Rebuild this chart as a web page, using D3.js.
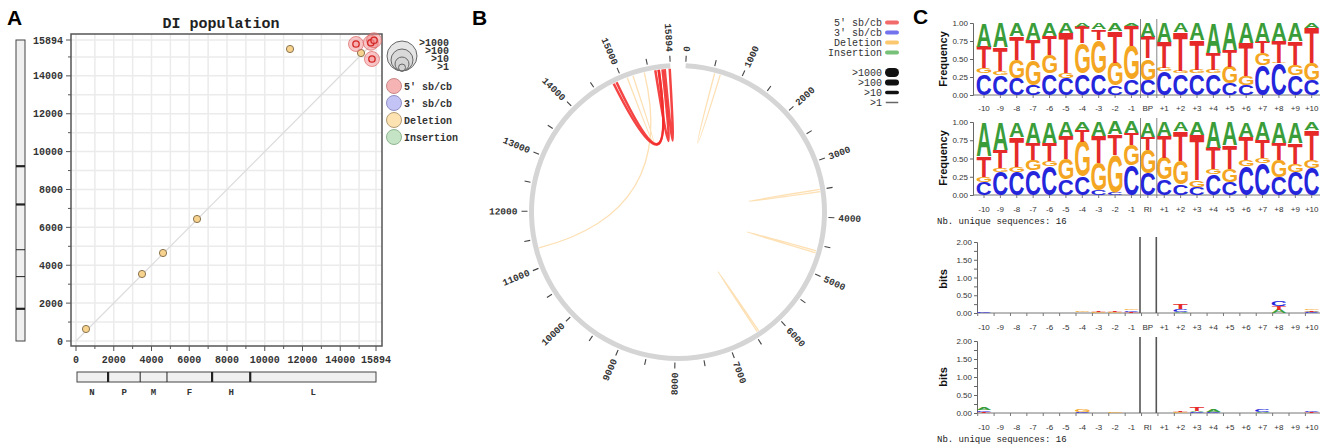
<!DOCTYPE html>
<html><head><meta charset="utf-8">
<script src="https://cdn.jsdelivr.net/npm/d3@7"></script>
<style>body{margin:0;background:#fff}svg{display:block}</style>
</head><body>
<svg id="c" width="1330" height="448"></svg>
<script>
// ---------------- DATA ----------------
const GENOME = 15894;
const geneNames = ["N","P","M","F","H","L"];
const geneStarts = [0,1700,3400,4820,7210,9230];
const geneEnds = [1700,3400,4820,7210,9230,15894];
const thickBoundaries = [1700,7210,9230];
// deletions: breakpoint / rejoin
const delBreak = [530,3497,4610,6412,11338,15100];
const delRejoin = [634,3538,4647,6442,15419,15207];
// 5' copy-back / snap-back
const cbBreak = [14834,15620,15680,15790];
const cbRejoin = [15683,15750,14890,15880];
const axisLabelValues = [0,2000,4000,6000,8000,10000,12000,14000,15894];
const sizeLabels = [">1000",">100",">10",">1"];
const typeLabels = ["5' sb/cb","3' sb/cb","Deletion","Insertion"];

const logoLabels1 = ["-10","-9","-8","-7","-6","-5","-4","-3","-2","-1","BP","+1","+2","+3","+4","+5","+6","+7","+8","+9","+10"];
const logoLabels2 = ["-10","-9","-8","-7","-6","-5","-4","-3","-2","-1","RI","+1","+2","+3","+4","+5","+6","+7","+8","+9","+10"];
const freq1C = [.30,.28,.23,.14,.30,.23,.30,.30,.13,.21,.21,.33,.30,.30,.30,.16,.14,.42,.44,.28,.21];
const freq1G = [.07,.05,.26,.35,.26,.07,.42,.46,.32,.47,.30,.05,.04,.05,.05,.23,.12,.16,.01,.14,.23];
const freq1T = [.30,.33,.33,.28,.26,.56,.23,.15,.44,.28,.30,.35,.54,.42,.23,.23,.46,.16,.30,.33,.49];
const freq1A = [.33,.34,.18,.23,.18,.14,.05,.09,.11,.04,.19,.27,.12,.23,.42,.38,.28,.26,.25,.25,.07];
const freq2C = [.18,.32,.32,.34,.39,.21,.25,.07,.04,.41,.30,.21,.14,.11,.28,.18,.39,.44,.25,.32,.37];
const freq2G = [.07,.05,.07,.14,.07,.28,.48,.37,.51,.28,.32,.30,.32,.09,.07,.18,.09,.07,.23,.11,.11];
const freq2T = [.28,.25,.41,.23,.25,.32,.16,.37,.28,.16,.18,.30,.41,.62,.30,.32,.32,.25,.23,.28,.41];
const freq2A = [.47,.38,.20,.29,.29,.19,.11,.19,.17,.15,.20,.19,.13,.18,.35,.32,.20,.24,.29,.29,.11];
const bits3C = [.02,.01,0,0,0,0,.005,.01,.01,.05,0,0,.07,0,0,0,0,0,.13,0,.02];
const bits3G = [0,0,0,0,0,0,.015,.02,.02,.05,0,0,0,0,0,0,0,0,0,0,.05];
const bits3T = [.01,.005,0,0,0,.005,.01,.02,.02,.03,0,0,.14,.005,.005,0,0,0,.10,0,.04];
const bits3A = [0,0,0,0,0,0,0,0,0,.01,0,0,.03,0,0,0,0,0,.09,0,.02];
const bits4C = [.05,.005,0,0,0,0,.02,0,0,0,0,0,0,.03,.03,0,0,.06,0,0,.05];
const bits4G = [0,.005,0,0,0,0,.07,0,.03,0,0,0,.02,0,0,0,0,0,0,0,0];
const bits4T = [.02,.01,.01,0,0,0,0,0,0,0,0,0,.03,.12,0,0,0,0,0,0,.03];
const bits4A = [.07,0,0,0,0,0,0,0,0,0,0,0,0,.03,.05,0,0,.04,0,0,0];
const freqTicks = [0,0.25,0.5,0.75,1];
const bitsTicks = [0,0.25,0.5,0.75,1,1.25,1.5,1.75,2];

// ---------------- SETUP ----------------
const svg = d3.select("#c");
const MONO = "'Liberation Mono','Courier New',monospace";
const SANS = "'Liberation Sans',Arial,sans-serif";
const typeFill = ["#f6b3b3","#c3c3f5","#fde2b2","#c5e3c5"];
const typeStroke = ["#c98888","#8f8fc4","#b59c74","#8fb58f"];
const lineColor = ["#f26b6b","#7373ee","#fbc870","#77c077"];

function panelLabel(t,x,y){svg.append("text").attr("x",x).attr("y",y).text(t)
  .attr("font-family",SANS).attr("font-weight","bold").attr("font-size",21).attr("fill","#000");}
panelLabel("A",7,25); panelLabel("B",472,25); panelLabel("C",913,24);

// ---------------- PANEL A ----------------
const ax = d3.scaleLinear().domain([0,GENOME]).range([76,376]);
const ay = d3.scaleLinear().domain([0,GENOME]).range([341,40]);
const gA = svg.append("g");
const gridVals = d3.range(0,GENOME,1000).concat([GENOME]);
gA.selectAll(".gx").data(gridVals).join("line").attr("x1",d=>ax(d)).attr("x2",d=>ax(d))
  .attr("y1",34).attr("y2",346).attr("stroke","#ebebeb").attr("stroke-width",1.5);
gA.selectAll(".gy").data(gridVals).join("line").attr("y1",d=>ay(d)).attr("y2",d=>ay(d))
  .attr("x1",71).attr("x2",382).attr("stroke","#ebebeb").attr("stroke-width",1.5);
gA.append("rect").attr("x",71).attr("y",34).attr("width",311).attr("height",312)
  .attr("fill","none").attr("stroke","#555").attr("stroke-width",1.5);
gridVals.forEach(v=>{
  const major = axisLabelValues.includes(v);
  gA.append("line").attr("x1",ax(v)).attr("x2",ax(v)).attr("y1",346).attr("y2",major?351:349).attr("stroke","#555");
  gA.append("line").attr("y1",ay(v)).attr("y2",ay(v)).attr("x1",71).attr("x2",major?66:68).attr("stroke","#555");
});
gA.selectAll(".xl").data(axisLabelValues).join("text").attr("x",d=>ax(d)).attr("y",363)
  .attr("text-anchor","middle").text(d=>d).attr("font-family",MONO).attr("font-weight","bold").attr("font-size",10).attr("fill","#333");
gA.selectAll(".yl").data(axisLabelValues).join("text").attr("x",63).attr("y",d=>ay(d)+3.5)
  .attr("text-anchor","end").text(d=>d).attr("font-family",MONO).attr("font-weight","bold").attr("font-size",10).attr("fill","#333");
gA.append("text").attr("x",221).attr("y",28).attr("text-anchor","middle").text("DI population")
  .attr("font-family",MONO).attr("font-weight","bold").attr("font-size",15).attr("fill","#222");
gA.append("line").attr("x1",ax(0)).attr("y1",ay(0)).attr("x2",ax(GENOME)).attr("y2",ay(GENOME)).attr("stroke","#dcdcdc").attr("stroke-width",1.2);
gA.append("rect").attr("x",16).attr("y",ay(GENOME)).attr("width",9).attr("height",ay(0)-ay(GENOME)).attr("fill","#f0f0f0").attr("stroke","#444");
gA.append("rect").attr("x",ax(0)+1).attr("y",372).attr("width",ax(GENOME)-ax(0)-1).attr("height",10).attr("fill","#f0f0f0").attr("stroke","#444");
geneStarts.slice(1).forEach(b=>{
  const w = thickBoundaries.includes(b)?2.2:1;
  gA.append("line").attr("x1",16).attr("x2",25).attr("y1",ay(b)).attr("y2",ay(b)).attr("stroke","#222").attr("stroke-width",w);
  gA.append("line").attr("y1",372).attr("y2",382).attr("x1",ax(b)).attr("x2",ax(b)).attr("stroke","#222").attr("stroke-width",w);
});
geneNames.forEach((n,i)=>{
  gA.append("text").attr("x",ax((geneStarts[i]+geneEnds[i])/2)).attr("y",395).attr("text-anchor","middle").text(n)
    .attr("font-family",MONO).attr("font-weight","bold").attr("font-size",9).attr("fill","#333");
});
delBreak.forEach((b,i)=>{
  gA.append("circle").attr("cx",ax(b)).attr("cy",ay(delRejoin[i])).attr("r",3.6)
    .attr("fill","#f7d38e").attr("stroke","#8a7350").attr("stroke-width",1);
});
cbBreak.forEach((b,i)=>{
  gA.append("circle").attr("cx",ax(b)).attr("cy",ay(cbRejoin[i])).attr("r",7.5)
    .attr("fill","#f08080").attr("fill-opacity",0.45).attr("stroke","#d66").attr("stroke-opacity",0.7);
});
cbBreak.forEach((b,i)=>{
  gA.append("circle").attr("cx",ax(b)).attr("cy",ay(cbRejoin[i])).attr("r",3.2)
    .attr("fill","#f6a0a0").attr("fill-opacity",0.6).attr("stroke","#d42525").attr("stroke-width",1.3);
});
[15,11,7,3.5].forEach(r=>{
  gA.append("circle").attr("cx",402).attr("cy",71-r).attr("r",r).attr("fill","#cfcfcf").attr("fill-opacity",0.55).attr("stroke","#666").attr("stroke-width",1);
});
sizeLabels.forEach((t,i)=>{
  gA.append("text").attr("x",449).attr("y",46+i*8).attr("text-anchor","end").text(t)
    .attr("font-family",MONO).attr("font-weight","bold").attr("font-size",10).attr("fill","#333");
});
typeLabels.forEach((t,i)=>{
  const cy = 86+i*17;
  gA.append("circle").attr("cx",394).attr("cy",cy).attr("r",7.5).attr("fill",typeFill[i]).attr("stroke",typeStroke[i]);
  gA.append("text").attr("x",404).attr("y",cy+3.5).text(t)
    .attr("font-family",MONO).attr("font-weight","bold").attr("font-size",10).attr("fill","#333");
});

// ---------------- PANEL B ----------------
const cx = 678, cy = 212, R = 146.5;
const ang = d3.scaleLinear().domain([0,GENOME]).range([3,357]); // degrees
const rad = d=>ang(d)*Math.PI/180;
const pt = (v,r)=>[cx + r*Math.sin(rad(v)), cy - r*Math.cos(rad(v))];
const gB = svg.append("g");
gB.append("path").attr("transform",`translate(${cx},${cy})`)
  .attr("d",d3.arc().innerRadius(R-2.5).outerRadius(R+2.5).startAngle(rad(0)).endAngle(rad(GENOME))())
  .attr("fill","#d5d5d5");
const circTicks = d3.range(0,GENOME,500).concat([GENOME]);
circTicks.forEach(v=>{
  const p1 = pt(v,R+4), p2 = pt(v,R+10);
  gB.append("line").attr("x1",p1[0]).attr("y1",p1[1]).attr("x2",p2[0]).attr("y2",p2[1]).attr("stroke","#444").attr("stroke-width",1.1);
});
const circLabels = d3.range(0,GENOME,1000).concat([GENOME]);
circLabels.forEach(v=>{
  const a = ang(v);
  const flip = a>180;
  gB.append("text").attr("transform",`translate(${cx},${cy}) rotate(${a-90}) translate(${R+14},0)${flip?" rotate(180)":""}`)
    .attr("text-anchor",flip?"end":"start").attr("dy","0.35em").text(v)
    .attr("font-family",MONO).attr("font-weight","bold").attr("font-size",9.5).attr("fill","#333");
});
function chord(a,b){const p=pt(a,R-3), q=pt(b,R-3); return `M${p[0]},${p[1]}Q${cx},${cy} ${q[0]},${q[1]}`;}
delBreak.forEach((b,i)=>{
  gB.append("path").attr("d",chord(b,delRejoin[i])).attr("fill","none").attr("stroke","#fde0b4").attr("stroke-width",1.3);
});
cbBreak.forEach((b,i)=>{
  gB.append("path").attr("d",chord(b,cbRejoin[i])).attr("fill","none").attr("stroke","#f22a2a").attr("stroke-opacity",0.88).attr("stroke-width",2.5);
});
typeLabels.forEach((t,i)=>{
  const y = 26+i*10;
  gB.append("text").attr("x",882).attr("y",y).attr("text-anchor","end").text(t)
    .attr("font-family",MONO).attr("font-size",10).attr("fill","#333");
  gB.append("line").attr("x1",887).attr("x2",897).attr("y1",y-3.5).attr("y2",y-3.5).attr("stroke",lineColor[i]).attr("stroke-width",4).attr("stroke-linecap","round");
});
const sizeW = [9,6,3.5,1.5];
sizeLabels.forEach((t,i)=>{
  const y = 76+i*10;
  gB.append("text").attr("x",882).attr("y",y).attr("text-anchor","end").text(t)
    .attr("font-family",MONO).attr("font-size",10).attr("fill","#333");
  const w = sizeW[i];
  gB.append("line").attr("x1",885+w/2).attr("x2",899-w/2).attr("y1",y-3.5).attr("y2",y-3.5)
    .attr("stroke",i==3?"#666":"#111").attr("stroke-width",w).attr("stroke-linecap",i==3?"butt":"round");
});

// ---------------- PANEL C ----------------
const letterColor = {A:"#3a9d3a",C:"#2525dc",G:"#f4a623",T:"#e62a2a"};
const ctx = document.createElement("canvas").getContext("2d");
ctx.font = "bold 100px 'Liberation Sans'";
const gm = {};
["A","C","G","T"].forEach(l=>{const m=ctx.measureText(l);
  gm[l]={l:m.actualBoundingBoxLeft,r:m.actualBoundingBoxRight,a:m.actualBoundingBoxAscent,d:m.actualBoundingBoxDescent};});
function letter(g,ch,x0,yB,w,h){
  if(h<0.5) return;
  const m=gm[ch]; const sx=w/(m.l+m.r), sy=h/(m.a+m.d);
  g.append("text").attr("transform",`translate(${x0},${yB}) scale(${sx},${sy}) translate(${m.l},${-m.d})`)
   .attr("font-family","Liberation Sans").attr("font-weight","bold").attr("font-size",100).attr("fill",letterColor[ch]).text(ch);
}
const cxs = d3.scalePoint().domain(d3.range(21)).range([984,1311.7]);
function drawLogo(o){
  const g = svg.append("g");
  const y = d3.scaleLinear().domain([0,o.max]).range([o.bottom,o.top]);
  const axisX = o.axisX;
  const yaxis = g.append("g").attr("transform",`translate(${axisX},0)`)
    .call(d3.axisLeft(y).tickValues(o.ticks).tickSizeOuter(0).tickSize(3).tickPadding(2)
      .tickFormat(d3.format(".2f")));
  yaxis.selectAll("text").attr("font-family",SANS).attr("font-size",8).attr("fill","#333");
  yaxis.selectAll(".tick").filter(d=>!o.labelTicks.includes(d)).select("text").remove();
  yaxis.selectAll("line,path").attr("stroke","#666");
  g.append("line").attr("x1",axisX).attr("x2",1320).attr("y1",o.bottom).attr("y2",o.bottom).attr("stroke","#777");
  o.labels.forEach((lab,i)=>{
    const x = cxs(i)+o.tickOff;
    g.append("line").attr("x1",x).attr("x2",x).attr("y1",o.bottom).attr("y2",o.bottom+3).attr("stroke","#777");
    g.append("text").attr("x",cxs(i)).attr("y",o.labelY).attr("text-anchor","middle").text(lab)
      .attr("font-family",SANS).attr("font-size",8).attr("fill","#333");
  });
  g.append("text").attr("transform",`translate(947,${o.ylabY}) rotate(-90)`).attr("text-anchor","middle").text(o.ylabel)
    .attr("font-family",SANS).attr("font-weight","bold").attr("font-size",11).attr("fill","#111");
  const W = 14.6;
  o.labels.forEach((lab,i)=>{
    let stack = [["C",o.C[i]],["G",o.G[i]],["T",o.T[i]],["A",o.A[i]]];
    if(o.sorted) stack = stack.slice().sort((a,b)=>a[1]-b[1]);
    let acc = 0;
    stack.forEach(([ch,v])=>{
      const yb = y(acc), yt = y(acc+v);
      letter(g,ch,cxs(i)-W/2,yb,W,yb-yt);
      acc += v;
    });
  });
  o.seps.forEach(x=>{
    g.append("line").attr("x1",x).attr("x2",x).attr("y1",o.sepTop).attr("y2",o.bottom+(o.sorted?0:3))
      .attr("stroke",o.sorted?"#555":"#888").attr("stroke-width",o.sorted?1.6:1);
  });
}
drawLogo({top:23,bottom:95,max:1,ticks:freqTicks,labelTicks:freqTicks,axisX:973,labels:logoLabels1,labelY:111,
  C:freq1C,G:freq1G,T:freq1T,A:freq1A,sorted:false,ylabel:"Frequency",ylabY:59,seps:[1140.5,1156.8],sepTop:19,tickOff:0});
drawLogo({top:122,bottom:195,max:1,ticks:freqTicks,labelTicks:freqTicks,axisX:973,labels:logoLabels2,labelY:212,
  C:freq2C,G:freq2G,T:freq2T,A:freq2A,sorted:false,ylabel:"Frequency",ylabY:158,seps:[1140.5,1156.8],sepTop:118,tickOff:0});
drawLogo({top:242,bottom:313,max:2,ticks:bitsTicks,labelTicks:[0,0.5,1,1.5,2],axisX:977,labels:logoLabels1,labelY:330,
  C:bits3C,G:bits3G,T:bits3T,A:bits3A,sorted:true,ylabel:"bits",ylabY:279,seps:[1140,1156.3],sepTop:237,tickOff:-6.3});
drawLogo({top:341,bottom:413,max:2,ticks:bitsTicks,labelTicks:[0,0.5,1,1.5,2],axisX:977,labels:logoLabels2,labelY:430,
  C:bits4C,G:bits4G,T:bits4T,A:bits4A,sorted:true,ylabel:"bits",ylabY:377,seps:[1140,1156.3],sepTop:337,tickOff:-6.3});
[224,442].forEach(yy=>{
  svg.append("text").attr("x",937).attr("y",yy).text("Nb. unique sequences: 16")
    .attr("font-family",MONO).attr("font-size",9).attr("fill","#222");
});
</script>
</body></html>
